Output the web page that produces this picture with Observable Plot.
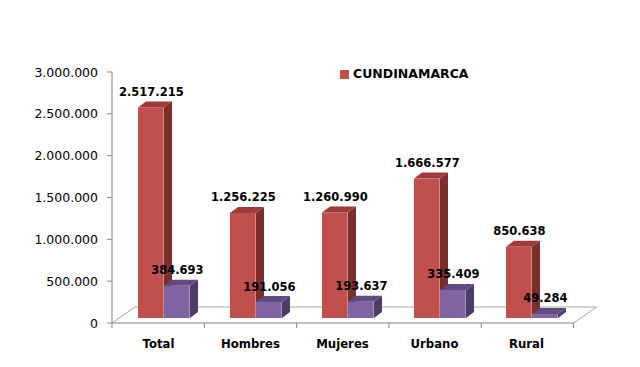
<!DOCTYPE html>
<html><head><meta charset="utf-8">
<script src="https://cdn.jsdelivr.net/npm/d3@7"></script>
<script src="https://cdn.jsdelivr.net/npm/@observablehq/plot@0.6"></script>
<style>
body{margin:0;background:#fff;font-family:"DejaVu Sans",sans-serif}
#wrap{position:relative;width:640px;height:367px}
#legend{position:absolute;left:340px;top:68px;display:flex;align-items:center;gap:4px;font:bold 12.5px "DejaVu Sans",sans-serif;color:#000;line-height:1}
#legend span.sw{display:inline-block;width:9px;height:9px;background:#C0504D}
</style>
</head><body>
<div id="wrap"><div id="legend"><span class="sw"></span><span>CUNDINAMARCA</span></div></div>
<script>
const categories = ["Total", "Hombres", "Mujeres", "Urbano", "Rural"];
const cundinamarca = [2517215, 1256225, 1260990, 1666577, 850638];
const serie2 = [384693, 191056, 193637, 335409, 49284];
const yTicks = [0, 500000, 1000000, 1500000, 2000000, 2500000, 3000000];
const seriesNames = ["CUNDINAMARCA", "Serie 2"];

const rows = categories.flatMap((c, i) => [
  {cat: c, serie: seriesNames[0], value: cundinamarca[i], slot: 0},
  {cat: c, serie: seriesNames[1], value: serie2[i], slot: 1}
]);
const red = rows.filter(d => d.slot === 0);
const purple = rows.filter(d => d.slot === 1);

const fmt = d3.formatLocale({decimal: ",", thousands: ".", grouping: [3], currency: ["", ""]}).format(",d");

const W = 640, H = 367, ML = 111.7, MR = 66.7, MT = 72, MB = 44;
const BW = (W - ML - MR) / categories.length;
const BARW = 26, START = 19, DX = 7, DY = -5, DEPX = 8, DEPY = -6;

const pal = [
  {front: "#C0504D", side: "#7A2F2D", top: "#9E3B39"},
  {front: "#8064A2", side: "#4E3C68", top: "#5F4B80"}
];

function faces(data, slot) {
  const c = pal[slot];
  return Plot.barY(data, {
    x: "cat", y: "value",
    render(index, scales) {
      const g = d3.create("svg:g");
      for (const i of index) {
        const d = data[i];
        const x0 = scales.x(d.cat) + START + slot * BARW + DX;
        const x1 = x0 + BARW;
        const yt = scales.y(d.value) + DY;
        const yb = scales.y(0) + DY;
        g.append("polygon").attr("fill", c.side)
          .attr("points", [[x1, yt], [x1 + DEPX, yt + DEPY], [x1 + DEPX, yb + DEPY], [x1, yb]].join(" "));
        g.append("polygon").attr("fill", c.top)
          .attr("points", [[x0, yt], [x0 + DEPX, yt + DEPY], [x1 + DEPX, yt + DEPY], [x1, yt]].join(" "));
      }
      return g.node();
    }
  });
}

function fronts(data, slot) {
  return Plot.barY(data, {
    x: "cat", y: "value", fill: pal[slot].front,
    insetLeft: START + slot * BARW, insetRight: BW - START - (slot + 1) * BARW,
    dx: DX, dy: DY
  });
}

function labels(data, slot) {
  // centre of the front face relative to the band centre
  const off = START + slot * BARW + DX + BARW / 2 - BW / 2;
  return Plot.text(data, {
    x: "cat", y: "value", text: d => fmt(d.value),
    dx: off, dy: DY - 12, lineAnchor: "bottom", textAnchor: "middle",
    fontSize: 11.5, fontWeight: "bold", fill: "#000"
  });
}

const frame = Plot.ruleY([0], {
  render(index, scales) {
    const g = d3.create("svg:g").attr("fill", "none");
    const x0 = scales.x(categories[0]);
    const x1 = x0 + BW * categories.length;
    const y0 = scales.y(0);
    const yTop = scales.y(yTicks[yTicks.length - 1]);
    const fx = 23, fy = -16;
    g.append("path").attr("stroke", "#A6A6A6")
      .attr("d", `M${x0},${y0}L${x0 + fx},${y0 + fy}L${x1 + fx},${y0 + fy}L${x1},${y0}`);
    g.append("path").attr("stroke", "#868686")
      .attr("d", `M${x0},${yTop}L${x0},${y0}L${x1},${y0}`);
    for (const t of yTicks) {
      g.append("line").attr("stroke", "#868686")
        .attr("x1", x0 - 5).attr("x2", x0).attr("y1", scales.y(t)).attr("y2", scales.y(t));
    }
    for (let k = 0; k <= categories.length; k++) {
      const x = x0 + k * BW;
      g.append("line").attr("stroke", "#868686")
        .attr("x1", x).attr("x2", x).attr("y1", y0).attr("y2", y0 + 5);
    }
    return g.node();
  }
});

const chart = Plot.plot({
  width: W, height: H,
  marginLeft: ML, marginRight: MR, marginTop: MT, marginBottom: MB,
  style: {fontFamily: "DejaVu Sans", background: "transparent", color: "#000"},
  x: {domain: categories, padding: 0, label: null},
  y: {domain: [0, 3000000], label: null},
  marks: [
    frame,
    Plot.axisY({ticks: yTicks, tickSize: 0, tickPadding: 14.2, tickFormat: fmt, fontSize: 12.5, fill: "#000"}),
    Plot.axisX({tickSize: 0, tickPadding: 16.5, fontSize: 11.7, fontWeight: "bold", fill: "#000"}),
    faces(red, 0),
    fronts(red, 0),
    faces(purple, 1),
    fronts(purple, 1),
    labels(red, 0),
    labels(purple, 1)
  ]
});
document.getElementById("wrap").prepend(chart);
</script>
</body></html>
